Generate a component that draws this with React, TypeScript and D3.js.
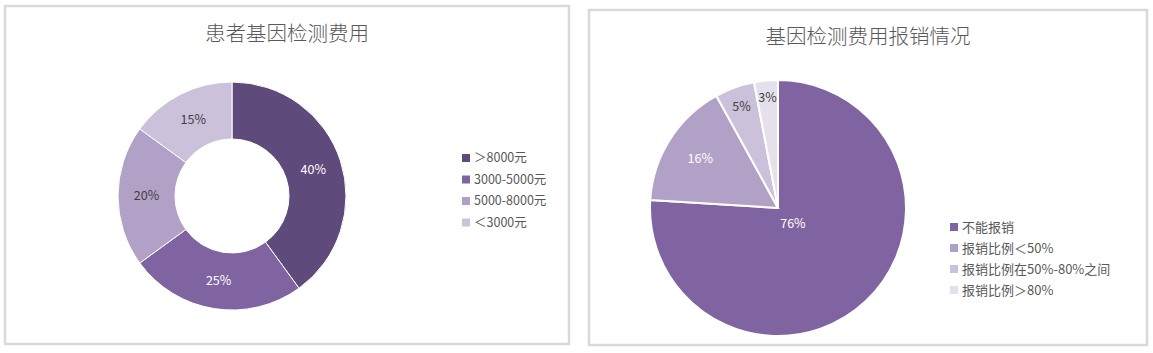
import React from "react";
import * as d3 from "d3";

// chart 1: 患者基因检测费用
const costCategories = ["＞8000元", "3000-5000元", "5000-8000元", "＜3000元"];
const costValues = [40, 25, 20, 15];
const costColors = ["#5f4b7b", "#8064a2", "#b2a1c7", "#ccc1da"];
const costLabelFill = ["#ffffff", "#ffffff", "#404040", "#404040"];

// chart 2: 基因检测费用报销情况
const reimbCategories = ["不能报销", "报销比例＜50%", "报销比例在50%-80%之间", "报销比例＞80%"];
const reimbValues = [76, 16, 5, 3];
const reimbColors = ["#8064a2", "#b2a1c7", "#ccc1da", "#e5e0ec"];
const reimbLabelFill = ["#ffffff", "#ffffff", "#404040", "#404040"];
// label distance from centre, as share of radius (Excel "best fit")
const reimbLabelR = [0.17, 0.72, 0.84, 0.87];

const FONT = "'Noto Sans CJK SC', 'Noto Sans', sans-serif";
const TEXT = "#595959";

const pie = d3.pie<number>().sort(null).value((d) => d);

function Legend({ x, y, items, colors, step, size }: any) {
  return (
    <g transform={`translate(${x},${y})`}>
      {items.map((t: string, i: number) => (
        <g key={t} transform={`translate(0,${i * step})`}>
          <rect x={-4} y={-4} width={8} height={8} fill={colors[i]} />
          <text x={8} dy="0.35em" fontSize={size} fill={TEXT} fontFamily={FONT}>
            {t}
          </text>
        </g>
      ))}
    </g>
  );
}

export default function App() {
  const W = 1153;
  const H = 353;

  // donut
  const d1 = pie(costValues);
  const c1 = { x: 232, y: 196 };
  const r1 = 114;
  const arc1 = d3.arc<d3.PieArcDatum<number>>().innerRadius(r1 * 0.5).outerRadius(r1);

  // pie
  const d2 = pie(reimbValues);
  const c2 = { x: 778, y: 208 };
  const r2 = 128;
  const arc2 = d3.arc<d3.PieArcDatum<number>>().innerRadius(0).outerRadius(r2);

  return (
    <div style={{ position: "absolute", left: 0, top: 0 }}>
      <svg width={W} height={H} style={{ display: "block", background: "#fff" }}>
        {/* panel frames */}
        <rect x={5} y={6} width={564} height={338} fill="#fff" stroke="#d9d9d9" strokeWidth={2.5} />
        <rect x={589} y={10} width={558} height={335} fill="#fff" stroke="#d9d9d9" strokeWidth={2.5} />

        {/* left chart */}
        <text x={287} y={34} textAnchor="middle" dy="0.35em" fontSize={20.5} fill={TEXT} fontFamily={FONT} fontWeight={300}>
          患者基因检测费用
        </text>
        <g transform={`translate(${c1.x},${c1.y})`}>
          {d1.map((d, i) => (
            <path key={i} d={arc1(d) || ""} fill={costColors[i]} stroke="#fff" strokeWidth={1} />
          ))}
          {d1.map((d, i) => {
            const [lx, ly] = arc1.centroid(d);
            return (
              <text key={"l" + i} x={lx} y={ly} textAnchor="middle" dy="0.35em" fontSize={12.5} fill={costLabelFill[i]} fontFamily={FONT}>
                {costValues[i]}%
              </text>
            );
          })}
        </g>
        <Legend x={466} y={158} items={costCategories} colors={costColors} step={21.5} size={12.5} />

        {/* right chart */}
        <text x={868} y={37} textAnchor="middle" dy="0.35em" fontSize={20.5} fill={TEXT} fontFamily={FONT} fontWeight={300}>
          基因检测费用报销情况
        </text>
        <g transform={`translate(${c2.x},${c2.y})`}>
          {d2.map((d, i) => (
            <path key={i} d={arc2(d) || ""} fill={reimbColors[i]} stroke="#fff" strokeWidth={2} />
          ))}
          {d2.map((d, i) => {
            const lr = r2 * reimbLabelR[i];
            const [lx, ly] = d3.arc<d3.PieArcDatum<number>>().innerRadius(lr).outerRadius(lr).centroid(d);
            return (
              <text key={"l" + i} x={lx} y={ly} textAnchor="middle" dy="0.35em" fontSize={12.5} fill={reimbLabelFill[i]} fontFamily={FONT}>
                {reimbValues[i]}%
              </text>
            );
          })}
        </g>
        <Legend x={954} y={227} items={reimbCategories} colors={reimbColors} step={21} size={13} />
      </svg>
    </div>
  );
}
